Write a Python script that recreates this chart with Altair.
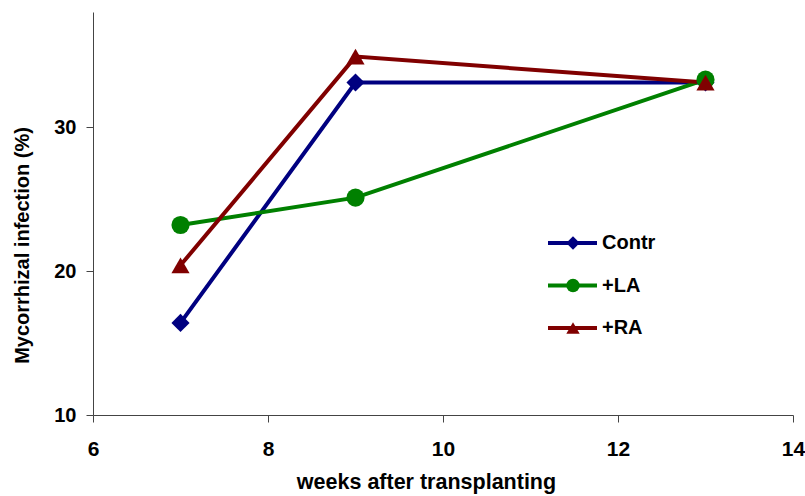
import altair as alt
import pandas as pd

weeks = [7, 9, 13]
series_names = ["Contr", "+LA", "+RA"]
contr = [16.4, 33.1, 33.1]
la = [23.2, 25.1, 33.3]
ra = [20.4, 34.9, 33.1]
colors = ["#000080", "#008000", "#800000"]
point_shapes = ["diamond", "circle", "triangle-up"]

rows = []
for name, vals in zip(series_names, [contr, la, ra]):
    for w, v in zip(weeks, vals):
        rows.append({"series": name, "week": w, "value": v})
df = pd.DataFrame(rows)
legend_df = pd.DataFrame({"series": series_names})

FONT = "Liberation Sans"

x = alt.X("week:Q", scale=alt.Scale(domain=[6, 14], nice=False),
          axis=alt.Axis(values=[6, 8, 10, 12, 14], title="weeks after transplanting",
                        titleX=333, titleY=67, titleBaseline="middle", titleFontSize=21.5,
                        labelPadding=16, labelFontSize=21, labelFlush=False))
y = alt.Y("value:Q", scale=alt.Scale(domain=[10, 38], nice=False),
          axis=alt.Axis(values=[10, 20, 30], title="Mycorrhizal infection (%)",
                        titleX=-71, titleY=233, titleBaseline="middle", titleAngle=-90,
                        titleFontSize=20, labelPadding=10, labelFontSize=20))

color = alt.Color("series:N", scale=alt.Scale(domain=series_names, range=colors), legend=None)

lines = alt.Chart(df).mark_line(strokeWidth=4).encode(x=x, y=y, color=color, order="week:Q")

point_layers = []
for name, shp in zip(series_names, point_shapes):
    point_layers.append(
        alt.Chart(df).transform_filter(alt.datum.series == name)
        .mark_point(filled=True, opacity=1, size=330, shape=shp)
        .encode(x=x, y=y, color=color)
    )

data_layer = alt.layer(lines, *point_layers)

# legend drawn as marks (row position from a point scale)
ly = alt.Y("series:N", scale=alt.Scale(type="point", domain=series_names, range=[231, 316], padding=0),
           axis=None)

leg_rule = alt.Chart(legend_df).mark_rule(strokeWidth=4).encode(
    x=alt.value(455), x2=alt.value(504), y=ly, color=color)
leg_pts = alt.Chart(legend_df).mark_point(filled=True, opacity=1, size=180).encode(
    x=alt.value(480), y=ly, color=color,
    shape=alt.Shape("series:N", scale=alt.Scale(domain=series_names, range=point_shapes), legend=None))
leg_txt = alt.Chart(legend_df).mark_text(
    align="left", baseline="middle", font=FONT, fontWeight="bold", fontSize=20, color="black"
).encode(x=alt.value(509), y=ly, text="series:N")

legend_layer = alt.layer(leg_rule, leg_pts, leg_txt)

chart = alt.layer(data_layer, legend_layer).resolve_scale(
    y="independent"
).properties(
    width=700, height=403,
    padding={"left": 93, "top": 12, "right": 12, "bottom": 81},
    autosize=alt.AutoSizeParams(type="none"),
).configure_view(stroke=None).configure_axis(
    grid=False, domainColor="#444", tickColor="#444", tickSize=7, domainWidth=1, tickWidth=1,
    labelFont=FONT, labelFontWeight="bold", labelColor="black",
    titleFont=FONT, titleFontWeight="bold", titleColor="black",
)

chart.save("out.html", embed_options={"renderer": "svg", "actions": False})
